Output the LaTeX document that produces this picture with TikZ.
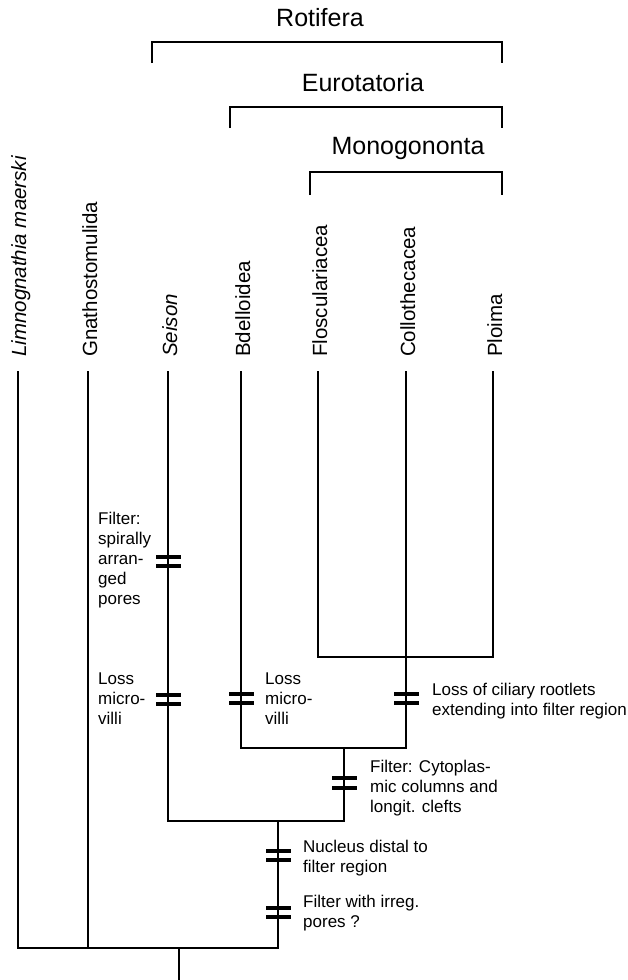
\documentclass[tikz,border=0pt]{standalone}
\usepackage{fontspec}
\setmainfont{Liberation Sans}
\begin{document}
\begin{tikzpicture}[x=1pt,y=-1pt,
  branch/.style={line width=2pt},
  bracketline/.style={line width=2pt},
  heading/.style={font=\fontsize{25}{30}\selectfont, inner sep=0pt},
  taxon/.style={font=\fontsize{20.5}{24}\selectfont, rotate=90, anchor=base west, inner sep=0pt},
  charlabel/.style={font=\fontsize{17}{20}\selectfont, align=left, anchor=west, inner sep=0pt},
  hatchmark/.pic={
    \fill (-12.5,-6.75) rectangle (12.5,-2.75);
    \fill (-12.5,2.75) rectangle (12.5,6.75);
  }]
\useasboundingbox (0,0) rectangle (627,980);

% headings and brackets
\node[heading] (rotifera) at (320,18) {Rotifera};
\node[heading] (eurotatoria) at (363,83) {Eurotatoria};
\node[heading] (monogononta) at (408,148) {Monogononta};
\coordinate (rotA) at (152,63); \coordinate (rotB) at (502,42); \coordinate (rotC) at (502,63);
\coordinate (eurA) at (230,128); \coordinate (eurB) at (502,107); \coordinate (eurC) at (502,128);
\coordinate (monA) at (310,195); \coordinate (monB) at (502,172); \coordinate (monC) at (502,195);
\draw[bracketline] (rotA) |- (rotB) -- (rotC);
\draw[bracketline] (eurA) |- (eurB) -- (eurC);
\draw[bracketline] (monA) |- (monB) -- (monC);

% taxon labels
\node[taxon] (lab1) at (26,357) {\itshape Limnognathia maerski};
\node[taxon] (lab2) at (97,357) {Gnathostomulida};
\node[taxon] (lab3) at (177,357) {\itshape Seison};
\node[taxon] (lab4) at (250,357) {Bdelloidea};
\node[taxon] (lab5) at (327,357) {Floscularia\-cea};
\node[taxon] (lab6) at (415,357) {Collothecacea};
\node[taxon] (lab7) at (502,357) {Ploima};

% tips
\coordinate (t1) at (18,371);
\coordinate (t2) at (88,371);
\coordinate (t3) at (168,371);
\coordinate (t4) at (241,371);
\coordinate (t5) at (318,371);
\coordinate (t6) at (406,371);
\coordinate (t7) at (493,371);

% internal nodes
\coordinate (mono) at (406,657);
\coordinate (euro) at (344,748);
\coordinate (roti) at (278,821);
\coordinate (base) at (278,948);
\coordinate (root) at (179,948);
\coordinate (rootend) at (179,980);

% tree
\draw[branch] (t5) |- (mono) -| (t7);
\draw[branch] (t6) -- (mono);
\draw[branch] (t4) |- (euro) -| (mono);
\draw[branch] (t3) |- (roti) -| (euro);
\draw[branch] (t1) |- (base) -- (roti);
\draw[branch] (t2) -- (t2 |- base);
\draw[branch] (root) -- (rootend);

% character changes
\pic at (168,561.5) {hatchmark};
\pic at (168,699.5) {hatchmark};
\pic at (241,698.5) {hatchmark};
\pic at (406,698.5) {hatchmark};
\pic at (344,783) {hatchmark};
\pic at (278,855.5) {hatchmark};
\pic at (278,912.5) {hatchmark};

\node[charlabel] (c1) at (98,560) {Filter:\\spirally\\arran-\\ged\\pores};
\node[charlabel] (c2) at (98,699) {Loss\\micro-\\villi};
\node[charlabel] (c3) at (265,699) {Loss\\micro-\\villi};
\node[charlabel] (c4) at (432,701) {Loss of ciliary rootlets\\extending into filter region};
\node[charlabel] (c5) at (370,788) {Filter: Cytoplas-\\mic columns and\\longit. clefts};
\node[charlabel] (c6) at (303,858) {Nucleus distal to\\filter region};
\node[charlabel] (c7) at (303,913) {Filter with irreg.\\pores ?};
\end{tikzpicture}
\end{document}
